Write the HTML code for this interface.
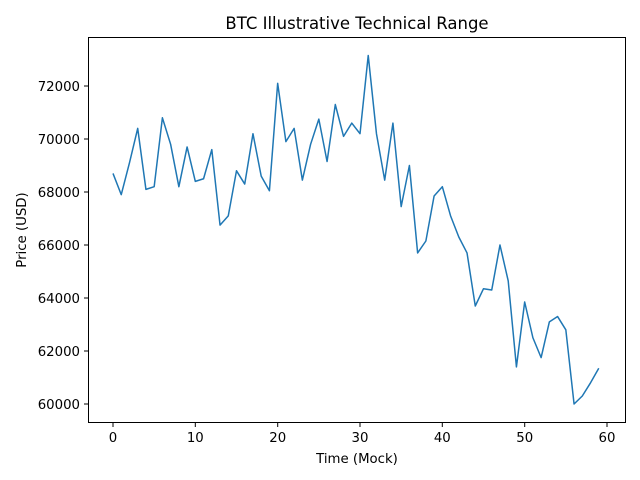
<!DOCTYPE html>
<html><head><style>body{margin:0;background:#fff}svg{display:block;font-family:"DejaVu Sans","Liberation Sans",sans-serif}</style></head>
<body>
<svg width="640" height="480" viewBox="0 0 640 480" xmlns="http://www.w3.org/2000/svg">
<rect width="640" height="480" fill="#fff"/>
<text x="357" y="29" font-size="16.5" text-anchor="middle">BTC Illustrative Technical Range</text>
<polyline fill="none" stroke="#1f77b4" stroke-width="1.5" stroke-linejoin="round" points="113,173.45 121.23,194.65 129.47,162.85 137.7,128.4 145.93,189.35 154.17,186.7 162.4,117.8 170.63,144.3 178.87,186.7 187.1,146.95 195.33,181.4 203.57,178.75 211.8,149.6 220.03,225.1 228.27,215.85 236.5,170.8 244.73,184.05 252.97,133.7 261.2,176.1 269.43,190.7 277.67,83.35 285.9,141.65 294.13,128.4 302.37,180.1 310.6,144.3 318.83,119.1 327.07,161.5 335.3,104.55 343.53,136.35 351.77,123.1 360,133.7 368.23,55.5 376.47,133.7 384.7,180.1 392.93,123.1 401.17,206.6 409.4,165.5 417.63,252.95 425.87,241 434.1,196 442.33,186.7 450.57,215.85 458.8,237 467.03,252.95 475.27,306 483.5,288.7 491.73,290 499.97,245 508.2,280.8 516.43,366.9 524.67,302 532.9,337.75 541.13,357.6 549.37,321.85 557.6,316.55 565.83,329.8 574.07,404 582.3,396 590.53,382.8 598.77,368.2"/>
<rect x="88.5" y="37.5" width="537" height="385" fill="none" stroke="#000" stroke-width="1"/>
<g stroke="#000" stroke-width="1">
<line x1="113" y1="423" x2="113" y2="427"/><line x1="195.3" y1="423" x2="195.3" y2="427"/><line x1="277.7" y1="423" x2="277.7" y2="427"/><line x1="360" y1="423" x2="360" y2="427"/><line x1="442.3" y1="423" x2="442.3" y2="427"/><line x1="524.7" y1="423" x2="524.7" y2="427"/><line x1="607" y1="423" x2="607" y2="427"/>
<line x1="84" y1="404" x2="88" y2="404"/><line x1="84" y1="351" x2="88" y2="351"/><line x1="84" y1="298" x2="88" y2="298"/><line x1="84" y1="245" x2="88" y2="245"/><line x1="84" y1="192" x2="88" y2="192"/><line x1="84" y1="139" x2="88" y2="139"/><line x1="84" y1="86" x2="88" y2="86"/>
</g>
<g font-size="13.3" text-anchor="middle">
<text x="113" y="442">0</text><text x="195.3" y="442">10</text><text x="277.7" y="442">20</text><text x="360" y="442">30</text><text x="442.3" y="442">40</text><text x="524.7" y="442">50</text><text x="607" y="442">60</text>
</g>
<g font-size="13.3" text-anchor="end">
<text x="80" y="409">60000</text><text x="80" y="356">62000</text><text x="80" y="303">64000</text><text x="80" y="250">66000</text><text x="80" y="197">68000</text><text x="80" y="144">70000</text><text x="80" y="91">72000</text>
</g>
<text x="357" y="463" font-size="13.3" text-anchor="middle">Time (Mock)</text>
<text x="26" y="230" font-size="13.3" text-anchor="middle" transform="rotate(-90 26 230)">Price (USD)</text>
</svg>
</body></html>
